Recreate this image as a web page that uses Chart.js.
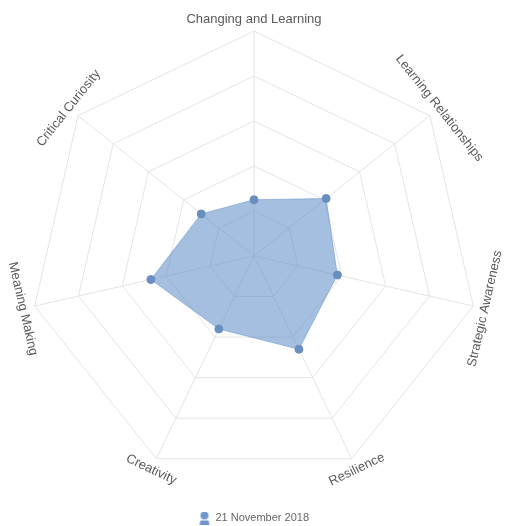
<!DOCTYPE html>
<html>
<head>
<meta charset="utf-8">
<script src="https://cdn.jsdelivr.net/npm/chart.js@4/dist/chart.umd.min.js"></script>
<style>
  html, body { margin: 0; padding: 0; background: #fff; }
  #wrap { width: 505px; height: 526px; position: relative; }
</style>
</head>
<body>
<div id="wrap"><canvas id="c"></canvas></div>
<script>
const categories = ['Changing and Learning', 'Learning Relationships', 'Strategic Awareness', 'Resilience', 'Creativity', 'Meaning Making', 'Critical Curiosity'];
const seriesName = '21 November 2018';
const seriesValues = [25, 41, 38, 46, 36, 47, 30];
const scaleMin = 0;
const scaleMax = 100;
const scaleStep = 20;

// legend icon (person-like marker)
function makeIcon() {
  const c = document.createElement('canvas');
  c.width = 14; c.height = 14;
  const g = c.getContext('2d');
  g.fillStyle = 'rgb(110,150,205)';
  g.beginPath(); g.arc(7, 5, 4, 0, Math.PI * 2); g.fill();
  g.beginPath();
  g.moveTo(2, 14); g.lineTo(3, 10); g.lineTo(11, 10); g.lineTo(12, 14); g.closePath();
  g.fill();
  return c;
}

const rotatedLabels = {
  id: 'rotatedLabels',
  afterDraw(chart) {
    const scale = chart.scales.r;
    const ctx = chart.ctx;
    ctx.save();
    ctx.font = '13px "Liberation Sans", Arial, sans-serif';
    ctx.fillStyle = '#5a5a5a';
    ctx.textAlign = 'center';
    ctx.textBaseline = 'middle';
    categories.forEach((lab, i) => {
      const pos = scale.getPointPosition(i, scale.drawingArea + 12);
      const ang = scale.getIndexAngle(i);
      let deg = ang * 180 / Math.PI;
      deg = ((deg % 360) + 360) % 360;
      let rot = deg;
      if (deg > 90 && deg < 270) rot = deg - 180;
      ctx.save();
      ctx.translate(pos.x, pos.y);
      ctx.rotate(rot * Math.PI / 180);
      ctx.fillText(lab, 0, 0);
      ctx.restore();
    });
    ctx.restore();
  }
};

new Chart(document.getElementById('c'), {
  type: 'radar',
  data: {
    labels: categories,
    datasets: [{
      label: seriesName,
      data: seriesValues,
      backgroundColor: 'rgba(95,140,200,0.56)',
      borderColor: 'rgba(95,140,200,0.5)',
      borderWidth: 1,
      pointRadius: 4,
      pointHoverRadius: 4,
      pointBackgroundColor: 'rgb(105,142,192)',
      pointBorderColor: 'rgb(105,142,192)',
      fill: true
    }]
  },
  options: {
    responsive: true,
    maintainAspectRatio: false,
    animation: false,
    layout: { padding: { top: 0, left: 29, right: 26, bottom: -7 } },
    scales: {
      r: {
        min: scaleMin,
        max: scaleMax,
        ticks: { display: false, stepSize: scaleStep },
        grid: { color: '#e4e4e4', lineWidth: 1 },
        angleLines: { color: '#e4e4e4', lineWidth: 1 },
        pointLabels: { display: false }
      }
    },
    plugins: {
      legend: {
        position: 'bottom',
        labels: {
          usePointStyle: true,
          pointStyle: makeIcon(),
          color: '#666',
          font: { size: 11, family: '"Liberation Sans", Arial, sans-serif' },
          padding: 0
        }
      },
      tooltip: { enabled: false }
    }
  },
  plugins: [rotatedLabels]
});
</script>
</body>
</html>
